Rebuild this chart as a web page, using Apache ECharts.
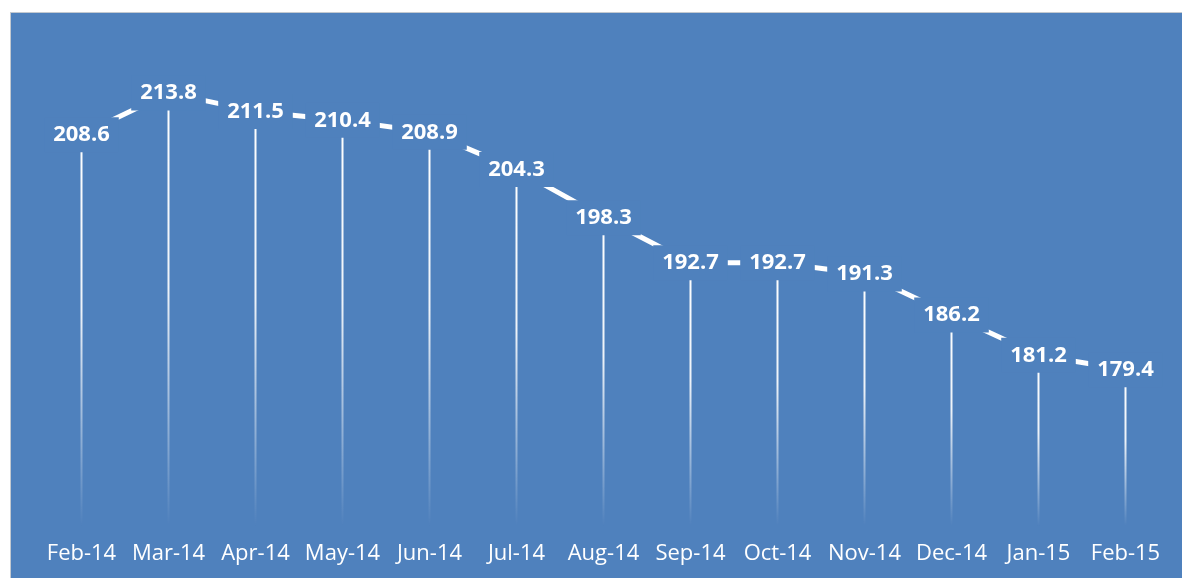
<!DOCTYPE html>
<html>
<head>
<meta charset="utf-8">
<style>
  html, body { margin: 0; padding: 0; background: #fff; }
  #chart {
    position: absolute;
    left: 10px;
    top: 12px;
    width: 1172px;
    height: 566px;
    border-top: 1px solid #c3c9d0;
    border-left: 1px solid #c3c9d0;
    box-sizing: border-box;
    background: #4f81bd;
  }
</style>
<script src="https://cdn.jsdelivr.net/npm/echarts@6/dist/echarts.min.js"></script>
</head>
<body>
<div id="chart"></div>
<script>
// months and values
var months = ["Feb-14", "Mar-14", "Apr-14", "May-14", "Jun-14", "Jul-14", "Aug-14",
  "Sep-14", "Oct-14", "Nov-14", "Dec-14", "Jan-15", "Feb-15"];
var values = [208.6, 213.8, 211.5, 210.4, 208.9, 204.3, 198.3,
  192.7, 192.7, 191.3, 186.2, 181.2, 179.4];

var blue = "#4f81bd";
var myChart = echarts.init(document.getElementById("chart"));

var option = {
  animation: false,
  grid: { left: 27, right: 13, top: 30, bottom: 52 },
  xAxis: {
    type: "category",
    data: months,
    boundaryGap: true,
    axisLine: { show: false },
    axisTick: { show: false },
    axisLabel: {
      interval: 0,
      color: "#ffffff",
      fontFamily: "Open Sans",
      fontSize: 22,
      margin: 17,
    },
  },
  yAxis: {
    type: "value",
    show: false,
    min: 160,
    max: 220,
    splitLine: { show: false },
  },
  series: [
    {
      // drop lines
      type: "bar",
      data: values,
      barWidth: 2,
      z: 2,
      itemStyle: {
        color: new echarts.graphic.LinearGradient(0, 0, 0, 1, [
          { offset: 0, color: "rgba(255,255,255,1)" },
          { offset: 0.45, color: "rgba(255,255,255,0.9)" },
          { offset: 1, color: "rgba(255,255,255,0)" },
        ]),
      },
    },
    {
      // line hidden behind the label boxes, only short pieces show between them
      type: "line",
      data: values,
      z: 3,
      symbol: "circle",
      symbolSize: 1,
      showSymbol: true,
      itemStyle: { color: "rgba(0,0,0,0)" },
      lineStyle: { color: "#ffffff", width: 5 },
      label: {
        show: true,
        position: "inside",
        color: "#ffffff",
        fontFamily: "Open Sans",
        fontWeight: "bold",
        fontSize: 22,
        lineHeight: 27,
        backgroundColor: blue,
        padding: [4, 9, 4, 9],
        formatter: function (p) { return p.value.toFixed(1); },
      },
    },
  ],
};
myChart.setOption(option);
</script>
</body>
</html>
